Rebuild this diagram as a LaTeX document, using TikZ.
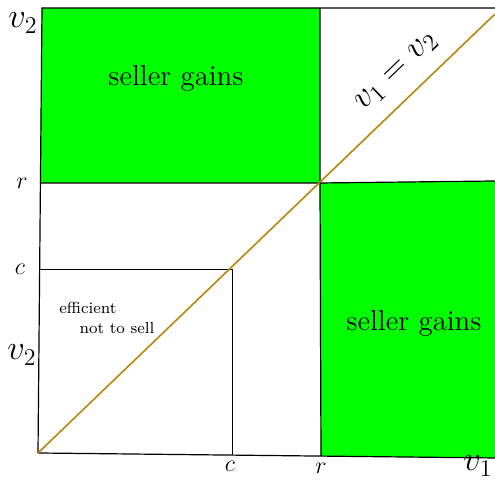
\documentclass[tikz,border=0pt]{standalone}
\usepackage{amssymb}
\definecolor{diagline}{RGB}{184,134,11}
\definecolor{gaingreen}{RGB}{0,255,0}

\begin{document}
\begin{tikzpicture}[x=0.5pt,y=0.5pt]
  \useasboundingbox (0,0) rectangle (495,480);
  \coordinate (O) at (38,27);
  \coordinate (TL) at (42,472);
  \coordinate (TR) at (495,472);
  \coordinate (BR) at (495,22);
  \coordinate (R) at (320,297);
  \coordinate (Rl) at (40,297);
  \coordinate (Rt) at (320,472);
  \coordinate (Rb) at (321,24);
  \coordinate (Rr) at (495,299);
  \coordinate (C) at (232,211);
  \coordinate (Cl) at (39,211);
  \coordinate (Cb) at (232,25);
  \coordinate (E) at (495,466);
  % green regions
  \fill[gaingreen] (TL) -- (Rt) -- (R) -- (Rl) -- cycle;
  \fill[gaingreen] (R) -- (Rr) -- (BR) -- (Rb) -- cycle;
  % frame and lines
  \draw[line width=0.6pt] (O) -- (TL) -- (TR);
  \draw[line width=0.6pt] (O) -- (BR);
  \draw[line width=0.6pt] (Rt) -- (R) -- (Rb);
  \draw[line width=0.6pt] (Rl) -- (R) -- (Rr);
  \draw[line width=0.4pt] (Cl) -- (C) -- (Cb);
  \draw[diagline, line width=0.8pt] (O) -- (E);
  % labels
  \node (v2top) at (23,457) {\LARGE $v_2$};
  \node (rleft) at (22,297) {\large $r$};
  \node (cleft) at (20,211) {\large $c$};
  \node (v2left) at (22,125) {\LARGE $v_2$};
  \node (cbot) at (230,14) {\large $c$};
  \node (rbot) at (321,12) {\large $r$};
  \node (v1bot) at (478,14) {\LARGE $v_1$};
  \node[rotate=43.8, inner sep=1pt] (diag) at (397,408) {\LARGE $v_1=v_2$};
  \node (gaintop) at (176,402) {\Large seller gains};
  \node (gainbot) at (414,157) {\Large seller gains};
  \node[font=\footnotesize] (eff) at (88,172) {efficient};
  \node[font=\footnotesize] (nosell) at (117,152) {not to sell};
\end{tikzpicture}
\end{document}
